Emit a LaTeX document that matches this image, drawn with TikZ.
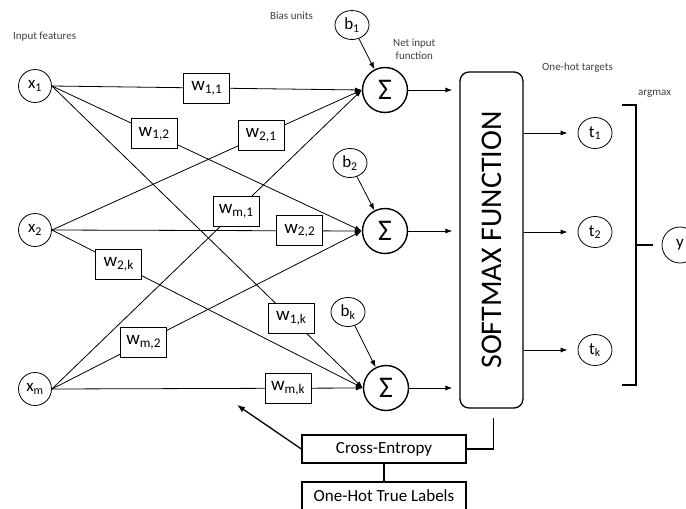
\documentclass[tikz,border=0pt]{standalone}
\usepackage{fontspec}
\setmainfont{Carlito}
\usetikzlibrary{arrows.meta,shapes.geometric}

\begin{document}
\begin{tikzpicture}[x=1pt, y=-1pt,
        every text node part/.style={align=center},
        unit/.style={draw, circle, line width=0.8pt, inner sep=0pt, minimum size=33pt, font=\fontsize{17}{17}\selectfont},
        oval/.style={draw, ellipse, line width=0.8pt, inner sep=0pt, minimum width=34pt, minimum height=29pt, font=\fontsize{17}{17}\selectfont},
        sum/.style={draw, circle, line width=1.4pt, inner sep=0pt, minimum size=45pt, font=\fontsize{30}{30}\selectfont},
        wbox/.style={draw, fill=white, line width=0.8pt, minimum width=46pt, minimum height=30pt, inner sep=1pt, font=\fontsize{19}{19}\selectfont},
        lossbox/.style={draw, line width=1.3pt, minimum width=164pt, minimum height=28pt, font=\fontsize{17}{17}\selectfont},
        tag/.style={anchor=west, inner sep=0pt, text=black!75, font=\fontsize{11}{13}\selectfont},
        wire/.style={line width=0.8pt, -{Latex[length=7pt,width=5pt]}}]

    \useasboundingbox (0,0) rectangle (686,509);

    % labels
    \node[tag] (lin) at (13,37) {Input features};
    \node[tag] (lbias) at (270,16) {Bias units};
    \node[tag, align=left] (lnet) at (393,49) {Net input\\function};
    \node[tag] (lhot) at (542,68) {One-hot targets};
    \node[tag] (larg) at (638,94) {argmax};

    % inputs, bias units and sums
    \node[unit] (x1) at (35,86) {x\textsubscript{1}};
    \node[unit] (x2) at (35,230) {x\textsubscript{2}};
    \node[unit] (xm) at (35,389) {x\textsubscript{m}};

    \node[oval] (b1) at (352,25) {b\textsubscript{1}};
    \node[oval] (b2) at (350,163) {b\textsubscript{2}};
    \node[oval] (bk) at (348,312) {b\textsubscript{k}};

    \node[sum] (s1) at (385,90) {Σ};
    \node[sum] (s2) at (385,231) {Σ};
    \node[sum] (sk) at (386,388) {Σ};

    % weighted connections
    \draw[wire] (x1.east) -- node[wbox, pos=0.5] (w11) {w\textsubscript{1,1}} (s1.west);
    \draw[wire] (x1.east) -- node[wbox, pos=0.33] (w12) {w\textsubscript{1,2}} (s2.west);
    \draw[wire] (x1.east) -- node[wbox, pos=0.77] (w1k) {w\textsubscript{1,k}} (sk.west);
    \draw[wire] (x2.east) -- node[wbox, pos=0.675] (w21) {w\textsubscript{2,1}} (s1.west);
    \draw[wire] (x2.east) -- node[wbox, pos=0.8] (w22) {w\textsubscript{2,2}} (s2.west);
    \draw[wire] (x2.east) -- node[wbox, pos=0.215] (w2k) {w\textsubscript{2,k}} (sk.west);
    \draw[wire] (xm.east) -- node[wbox, pos=0.595] (wm1) {w\textsubscript{m,1}} (s1.west);
    \draw[wire] (xm.east) -- node[wbox, pos=0.296] (wm2) {w\textsubscript{m,2}} (s2.west);
    \draw[wire] (xm.east) -- node[wbox, pos=0.76] (wmk) {w\textsubscript{m,k}} (sk.west);

    \draw[wire] (b1) -- (s1);
    \draw[wire] (b2) -- (s2);
    \draw[wire] (bk) -- (sk);

    % softmax and targets
    \node[draw, rounded corners=9pt, line width=1.3pt, rotate=90, minimum width=336pt, minimum height=63pt,
          font=\fontsize{30}{30}\selectfont] (soft) at (491.5,240) {SOFTMAX FUNCTION};

    \draw[wire, shorten >=7pt] (s1) -- (s1 -| soft.north);
    \draw[wire, shorten >=7pt] (s2) -- (s2 -| soft.north);
    \draw[wire, shorten >=7pt] (sk) -- (sk -| soft.north);

    \node[oval, minimum height=31pt] (t1) at (595,133) {t\textsubscript{1}};
    \node[oval, minimum height=31pt] (t2) at (595,232) {t\textsubscript{2}};
    \node[oval, minimum height=31pt] (tk) at (595,350) {t\textsubscript{k}};

    \draw[wire, shorten >=10pt] (t1 -| soft.south) -- (t1);
    \draw[wire, shorten >=10pt] (t2 -| soft.south) -- (t2);
    \draw[wire, shorten >=10pt] (tk -| soft.south) -- (tk);

    \node[unit, minimum size=36pt] (y) at (680,245) {y};
    \draw[line width=1.6pt] (622,105) -- (636,105) -- (636,245) -- (653,245) (636,245) -- (636,385) -- (622,385);

    % loss
    \node[lossbox] (ce) at (384,449) {Cross-Entropy};
    \node[lossbox] (oh) at (384,496) {One-Hot True Labels};
    \coordinate (back) at (237,405);

    \draw[line width=1.3pt] ([xshift=2pt, yshift=-9pt]soft.west) |- (ce.east);
    \draw[line width=1.3pt] (ce) -- (oh);
    \draw[line width=1.3pt, -{Latex[length=8pt,width=6pt]}] (ce.west) -- (back);

\end{tikzpicture}
\end{document}
